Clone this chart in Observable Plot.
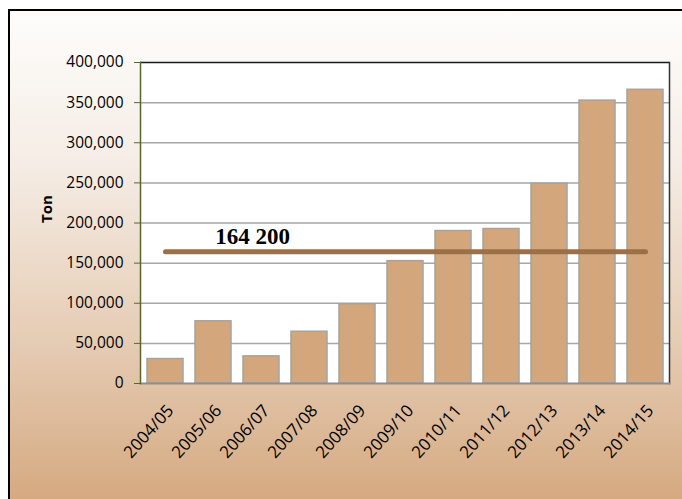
<!DOCTYPE html>
<html>
<head>
<meta charset="utf-8">
<script src="https://cdn.jsdelivr.net/npm/d3@7"></script>
<script src="https://cdn.jsdelivr.net/npm/@observablehq/plot@0.6"></script>
<style>
  html, body { margin: 0; padding: 0; background: #ffffff; }
  #wrap { position: relative; width: 682px; height: 499px; overflow: hidden; }
  #bg { position: absolute; left: 8px; top: 9px; width: 680px; height: 500px;
        border-left: 2px solid #000; border-top: 2px solid #000;
        background: linear-gradient(to bottom, #fefdfc 0%, #f5ede5 30%, #e6cdb6 65%, #d4a77d 100%); }
  #chart { position: absolute; left: 0; top: 0; }
</style>
</head>
<body>
<div id="wrap"><div id="bg"></div><div id="chart"></div></div>
<script>
const seasons = ["2004/05","2005/06","2006/07","2007/08","2008/09","2009/10","2010/11","2011/12","2012/13","2013/14","2014/15"];
const tons = [30500, 77500, 33800, 64500, 98800, 152500, 190000, 192500, 249000, 352500, 366000];
const average = 164200;
const averageLabel = "164 200";
const yTicks = [0, 50000, 100000, 150000, 200000, 250000, 300000, 350000, 400000];
const yLabel = "Ton";

const data = seasons.map((s, i) => ({season: s, value: tons[i]}));
const avgLine = seasons.map(s => ({season: s, value: average}));

const plot = Plot.plot({
  width: 682,
  height: 499,
  marginLeft: 140,
  marginRight: 13,
  marginTop: 62,
  marginBottom: 116,
  style: {background: "transparent", fontFamily: "'Open Sans', sans-serif"},
  x: {domain: seasons, paddingInner: 0.25, paddingOuter: 0.125, label: null},
  y: {domain: [0, 400000], label: null},
  marks: [
    Plot.frame({fill: "#ffffff", stroke: "none"}),
    Plot.ruleY(yTicks.filter(d => d > 0 && d < 400000), {stroke: "#a6a6a6", strokeWidth: 1.5}),
    Plot.barY(data, {x: "season", y: "value", fill: "#d3a77b", stroke: "#a3a3a3", strokeWidth: 1.5}),
    Plot.ruleY([400000], {stroke: "#1a1a1a", strokeWidth: 1.5}),
    Plot.frame({anchor: "right", stroke: "#333333", strokeWidth: 1.5}),
    Plot.frame({anchor: "bottom", stroke: "#8e8e8e", strokeWidth: 2}),
    Plot.frame({anchor: "left", stroke: "#55672f", strokeWidth: 1.5}),
    Plot.line(avgLine, {x: "season", y: "value", stroke: "#9b6f47", strokeWidth: 5, strokeLinecap: "round"}),
    Plot.text([averageLabel], {x: () => seasons[2], y: () => average, text: d => d, dx: -9, dy: -15,
      fontFamily: "'Liberation Serif', serif", fontWeight: "bold", fontSize: 23, fill: "#000"}),
    Plot.axisY({ticks: yTicks, tickFormat: d3.format(","), tickSize: 6, tickPadding: 11, stroke: "#55672f",
      fontSize: 15.5, fill: "#000", label: null}),
    Plot.axisX({tickSize: 0, tickRotate: -48, tickPadding: 24, dx: 5, fontSize: 17, fill: "#000", label: null}),
    Plot.text([yLabel], {frameAnchor: "left", dx: -93, rotate: -90, text: d => d, fontWeight: "bold", fontSize: 15, fill: "#000"})
  ]
});
document.getElementById("chart").appendChild(plot);
</script>
</body>
</html>
